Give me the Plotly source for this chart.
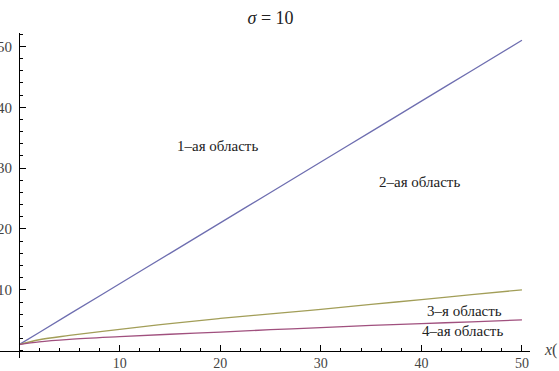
import plotly.graph_objects as go

# x grid
x_vals = [0, 2, 5, 10, 15, 20, 25, 30, 35, 40, 45, 50]
# upper boundary (blue line), between regions 1 and 2
blue_vals = [1.0, 3.0, 6.0, 11.0, 16.0, 21.0, 26.0, 31.0, 36.0, 41.0, 46.0, 51.0]
# middle boundary (olive line), between regions 2 and 3
olive_vals = [1.0, 1.8, 2.5, 3.5, 4.45, 5.3, 6.05, 6.8, 7.6, 8.4, 9.2, 10.0]
# lower boundary (magenta line), between regions 3 and 4
magenta_vals = [1.0, 1.45, 1.85, 2.3, 2.7, 3.05, 3.45, 3.8, 4.15, 4.45, 4.75, 5.05]

x_tick_vals = [10, 20, 30, 40, 50]
y_tick_vals = [10, 20, 30, 40, 50]

region_labels = ["1\u2013ая область", "2\u2013ая область", "3\u2013я область", "4\u2013ая область"]
region_x = [19.7, 39.8, 44.3, 44.1]
region_y = [33.6, 27.7, 6.6, 3.3]

title_text = "<i>\u03c3</i> = 10"
x_label = "<i>x</i>("

serif = "Liberation Serif, Times New Roman, serif"

W, H = 559, 371
ML, MR, MT, MB = 0, 29, 33, 13
pw, ph = W - ML - MR, H - MT - MB

xr = [-1.9, 50.8]
yr = [-1.2, 52.2]

fig = go.Figure()
for vals, col in [(blue_vals, "#6E6EB0"), (olive_vals, "#A29E58"), (magenta_vals, "#A0507E")]:
    fig.add_trace(go.Scatter(x=x_vals, y=vals, mode="lines", line_shape="spline",
                             line=dict(color=col, width=1.3),
                             showlegend=False, hoverinfo="skip"))

for t, xx, yy in zip(region_labels, region_x, region_y):
    fig.add_annotation(x=xx, y=yy, xref="x", yref="y", text=t, showarrow=False,
                       font=dict(family=serif, size=15, color="#222"))

fig.add_annotation(x=(542 - ML) / pw, y=(H - MB - 350) / ph, xref="paper", yref="paper",
                   text=x_label, showarrow=False,
                   font=dict(family=serif, size=16, color="#444"),
                   xanchor="left", yanchor="middle")

fig.update_layout(
    width=W, height=H,
    margin=dict(l=ML, r=MR, t=MT, b=MB, pad=0, autoexpand=False),
    paper_bgcolor="white", plot_bgcolor="white",
    title=dict(text=title_text, x=0.484, y=1 - 18 / H, xanchor="center", yanchor="middle",
               font=dict(family=serif, size=18, color="#222")),
    xaxis=dict(range=xr, anchor="free", position=(0 - yr[0]) / (yr[1] - yr[0]),
               automargin=False,
               showline=True, linecolor="black", linewidth=1,
               tickvals=x_tick_vals, ticks="inside", ticklen=6, tickcolor="black",
               minor=dict(dtick=2, tick0=0, ticks="inside", ticklen=3, tickcolor="black"),
               showgrid=False, zeroline=False,
               tickfont=dict(family=serif, size=14, color="#444")),
    yaxis=dict(range=yr, anchor="free", position=(0 - xr[0]) / (xr[1] - xr[0]),
               automargin=False,
               showline=True, linecolor="black", linewidth=1,
               tickvals=y_tick_vals, ticks="inside", ticklen=6, tickcolor="black",
               minor=dict(dtick=2, tick0=0, ticks="inside", ticklen=3, tickcolor="black"),
               showgrid=False, zeroline=False, ticklabelstandoff=4,
               tickfont=dict(family=serif, size=15, color="#444")),
)

fig.write_html("out.html", config={"displayModeBar": False},
               post_script="document.body.style.margin='0';")
